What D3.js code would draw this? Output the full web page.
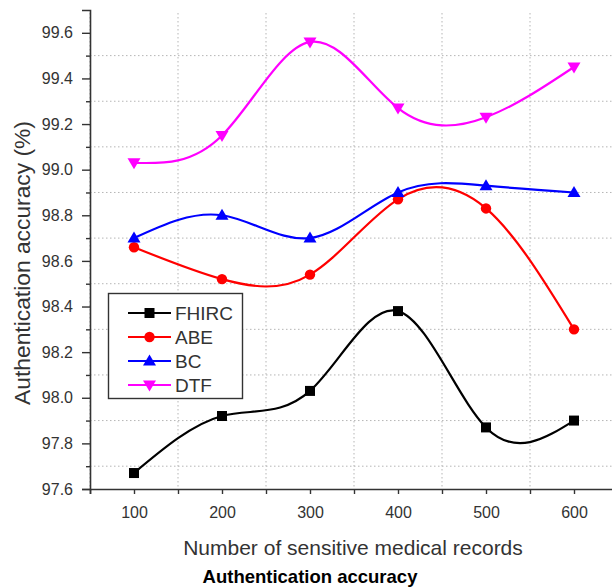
<!DOCTYPE html>
<html>
<head>
<meta charset="utf-8">
<script src="https://cdn.jsdelivr.net/npm/d3@7"></script>
<style>
  body { margin: 0; background: #fff; }
  text { font-family: Arial, "Liberation Sans", sans-serif; }
</style>
</head>
<body>
<div id="chart"></div>
<script>
// Data
const records = [100, 200, 300, 400, 500, 600];
const fhirc = [97.67, 97.92, 98.03, 98.38, 97.87, 97.90];
const abe = [98.66, 98.52, 98.54, 98.87, 98.83, 98.30];
const bc = [98.70, 98.80, 98.70, 98.90, 98.93, 98.90];
const dtf = [99.03, 99.15, 99.56, 99.27, 99.23, 99.45];
const seriesNames = ["FHIRC", "ABE", "BC", "DTF"];
const xTicks = [100, 200, 300, 400, 500, 600];
const yTicks = [97.6, 97.8, 98.0, 98.2, 98.4, 98.6, 98.8, 99.0, 99.2, 99.4, 99.6];

const width = 612, height = 588;
const plot = { left: 90, right: 618, top: 10, bottom: 489 };

const svg = d3.select("#chart")
    .append("svg")
    .attr("width", width)
    .attr("height", height);

// Scales
const xScale = d3.scaleLinear().domain([50, 650]).range([plot.left, plot.right]);
const yScale = d3.scaleLinear().domain([97.6, 99.7]).range([plot.bottom, plot.top]);

const xMinor = d3.range(50, 651, 50).filter(d => d % 100 !== 0);
const yMinor = d3.range(97.7, 99.6, 0.2).map(d => +d.toFixed(1));

// Dotted grid at minor ticks
const grid = svg.append("g").attr("class", "grid");
grid.selectAll(".xGrid")
    .data(xMinor)
    .enter()
    .append("line")
    .attr("x1", d => xScale(d))
    .attr("x2", d => xScale(d))
    .attr("y1", plot.top + 3)
    .attr("y2", plot.bottom)
    .attr("stroke", "#b5b5b5")
    .attr("stroke-width", 1)
    .attr("stroke-dasharray", "1.5,2.5");
grid.selectAll(".yGrid")
    .data(yMinor)
    .enter()
    .append("line")
    .attr("x1", plot.left)
    .attr("x2", plot.right)
    .attr("y1", d => yScale(d))
    .attr("y2", d => yScale(d))
    .attr("stroke", "#b5b5b5")
    .attr("stroke-width", 1)
    .attr("stroke-dasharray", "1.5,2.5");

// Axes
const xAxis = svg.append("g")
    .attr("transform", `translate(0,${plot.bottom})`)
    .call(d3.axisBottom(xScale).tickValues(xTicks).tickSize(5).tickPadding(13).tickFormat(d3.format("d")));
const xAxisMinor = svg.append("g")
    .attr("transform", `translate(0,${plot.bottom})`)
    .call(d3.axisBottom(xScale).tickValues(xMinor).tickSize(5).tickFormat(""));

const yAxis = svg.append("g")
    .attr("transform", `translate(${plot.left},0)`)
    .call(d3.axisLeft(yScale).tickValues(yTicks).tickSize(8).tickPadding(9).tickFormat(d3.format(".1f")));
const yAxisMinor = svg.append("g")
    .attr("transform", `translate(${plot.left},0)`)
    .call(d3.axisLeft(yScale).tickValues(yMinor).tickSize(4).tickFormat(""));

[xAxis, xAxisMinor, yAxis, yAxisMinor].forEach(g => {
    g.select(".domain").attr("stroke", "#333").attr("stroke-width", 1.6);
    g.selectAll(".tick line").attr("stroke", "#333").attr("stroke-width", 1.4);
    g.selectAll(".tick text").attr("fill", "#333").style("font-size", "16px");
});
xAxisMinor.select(".domain").remove();
yAxisMinor.select(".domain").remove();

// Series
const colors = { "FHIRC": "#000000", "ABE": "#ff0000", "BC": "#0000ff", "DTF": "#ff00ff" };
const symbols = { "FHIRC": "square", "ABE": "circle", "BC": "up", "DTF": "down" };
const values = { "FHIRC": fhirc, "ABE": abe, "BC": bc, "DTF": dtf };

const line = d3.line()
    .x((d, i) => xScale(records[i]))
    .y(d => yScale(d))
    .curve(d3.curveNatural);

function drawMarker(g, type, cx, cy, color) {
    if (type === "square") {
        g.append("rect").attr("x", cx - 5).attr("y", cy - 5).attr("width", 10).attr("height", 10).attr("fill", color);
    } else if (type === "circle") {
        g.append("circle").attr("cx", cx).attr("cy", cy).attr("r", 5.2).attr("fill", color);
    } else if (type === "up") {
        g.append("path").attr("d", `M${cx},${cy - 6.5}L${cx + 6.5},${cy + 4.5}L${cx - 6.5},${cy + 4.5}Z`).attr("fill", color);
    } else {
        g.append("path").attr("d", `M${cx},${cy + 6.5}L${cx + 6.5},${cy - 4.5}L${cx - 6.5},${cy - 4.5}Z`).attr("fill", color);
    }
}

seriesNames.forEach(name => {
    svg.append("path")
        .datum(values[name])
        .attr("fill", "none")
        .attr("stroke", colors[name])
        .attr("stroke-width", 2.2)
        .attr("d", line);
    const g = svg.append("g");
    values[name].forEach((v, i) => drawMarker(g, symbols[name], xScale(records[i]), yScale(v), colors[name]));
});

// Legend
const legend = svg.append("g");
legend.append("rect")
    .attr("x", 108.5).attr("y", 293.5)
    .attr("width", 134).attr("height", 105)
    .attr("fill", "#fff")
    .attr("stroke", "#333")
    .attr("stroke-width", 1.4);
seriesNames.forEach((name, i) => {
    const y = 313 + i * 24;
    legend.append("line")
        .attr("x1", 128).attr("x2", 171)
        .attr("y1", y).attr("y2", y)
        .attr("stroke", colors[name]).attr("stroke-width", 2.2);
    drawMarker(legend, symbols[name], 149.5, y, colors[name]);
    legend.append("text")
        .attr("x", 175).attr("y", y + 7)
        .attr("fill", "#333")
        .style("font-size", "19px")
        .text(name);
});

// Axis titles
svg.append("text")
    .attr("transform", `translate(30,263) rotate(-90)`)
    .attr("text-anchor", "middle")
    .attr("fill", "#333")
    .style("font-size", "22.8px")
    .text("Authentication accuracy (%)");

svg.append("text")
    .attr("x", 353).attr("y", 555)
    .attr("text-anchor", "middle")
    .attr("fill", "#333")
    .style("font-size", "21px")
    .text("Number of sensitive medical records");

svg.append("text")
    .attr("x", 310).attr("y", 583)
    .attr("text-anchor", "middle")
    .attr("fill", "#000")
    .style("font-size", "18.5px")
    .style("font-weight", "bold")
    .text("Authentication accuracy");
</script>
</body>
</html>
